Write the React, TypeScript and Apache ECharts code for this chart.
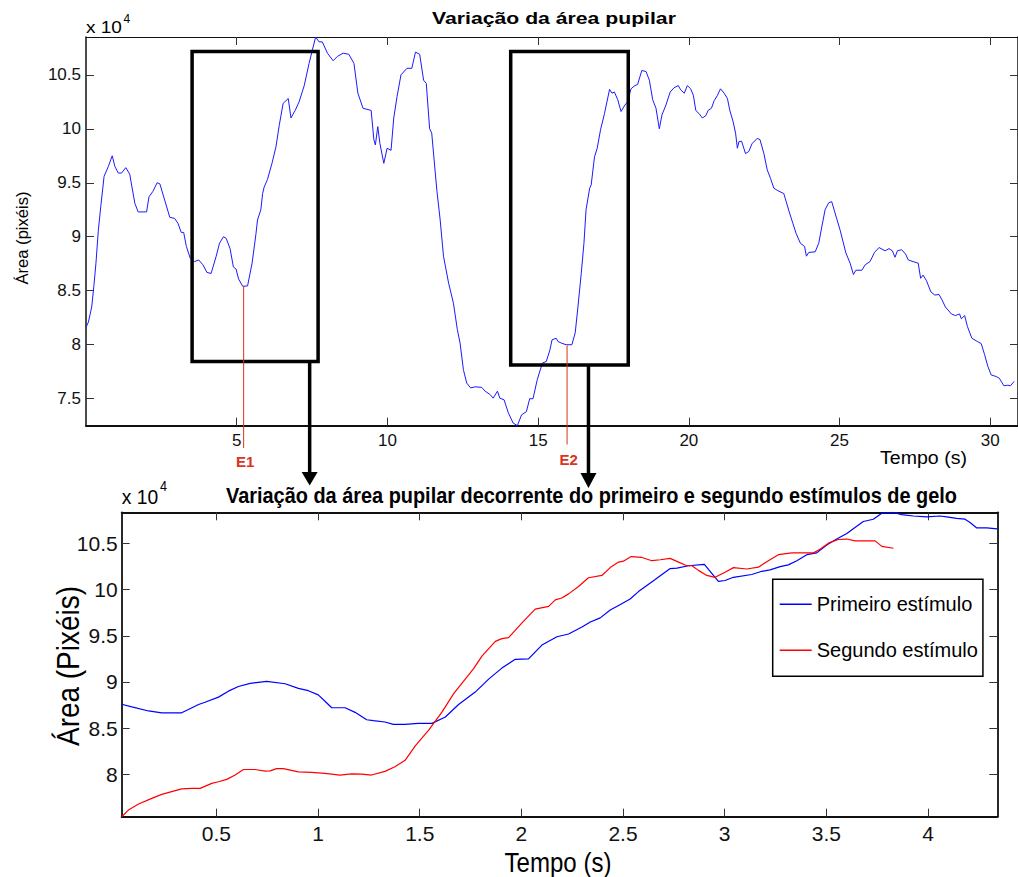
import React, { useEffect, useRef } from 'react';
import * as echarts from 'echarts';

// ---------- data (areas in units of 10^4 pixels, time in seconds) ----------
const topPupilArea: number[][] = [
  [0.00, 8.16], [0.08, 8.21], [0.19, 8.35], [0.26, 8.54], [0.33, 8.755], [0.41, 9.06], [0.49, 9.28], [0.60, 9.56],
  [0.74, 9.65], [0.87, 9.75], [0.96, 9.65], [1.07, 9.59], [1.18, 9.59], [1.32, 9.64], [1.45, 9.58], [1.62, 9.31],
  [1.73, 9.23], [2.01, 9.23], [2.09, 9.37], [2.22, 9.42], [2.36, 9.50], [2.45, 9.49], [2.61, 9.34], [2.78, 9.18],
  [2.94, 9.17], [3.05, 9.125], [3.16, 9.04], [3.24, 9.04], [3.33, 8.91], [3.46, 8.80], [3.60, 8.77], [3.74, 8.785],
  [3.88, 8.74], [4.01, 8.67], [4.15, 8.66], [4.32, 8.82], [4.43, 8.94], [4.56, 9.00], [4.65, 8.985], [4.78, 8.89],
  [4.89, 8.72], [4.98, 8.70], [5.06, 8.61], [5.20, 8.54], [5.36, 8.545], [5.51, 8.755], [5.64, 9.03], [5.69, 9.155],
  [5.80, 9.25], [5.86, 9.40], [5.91, 9.46], [6.02, 9.53], [6.17, 9.68], [6.30, 9.83], [6.41, 10.03], [6.54, 10.235],
  [6.71, 10.28], [6.80, 10.10], [6.94, 10.17], [7.07, 10.25], [7.24, 10.40], [7.40, 10.605], [7.51, 10.73], [7.62, 10.85],
  [7.73, 10.805], [7.84, 10.805], [8.01, 10.70], [8.20, 10.63], [8.34, 10.67], [8.53, 10.70], [8.72, 10.69], [8.89, 10.605],
  [9.02, 10.33], [9.19, 10.19], [9.46, 10.17], [9.55, 9.90], [9.60, 9.85], [9.68, 10.02], [9.75, 9.865], [9.88, 9.68],
  [9.99, 9.82], [10.12, 9.80], [10.21, 10.10], [10.32, 10.30], [10.45, 10.50], [10.65, 10.56], [10.81, 10.56], [10.93, 10.71],
  [11.07, 10.69], [11.20, 10.45], [11.29, 10.42], [11.40, 10.00], [11.47, 9.96], [11.64, 9.43], [11.75, 9.155], [11.86, 8.82],
  [12.03, 8.57], [12.19, 8.385], [12.32, 8.14], [12.41, 8.015], [12.52, 7.77], [12.63, 7.645], [12.76, 7.60], [12.91, 7.61],
  [13.13, 7.605], [13.24, 7.57], [13.40, 7.54], [13.51, 7.505], [13.65, 7.57], [13.73, 7.505], [13.87, 7.49], [14.01, 7.37],
  [14.17, 7.275], [14.31, 7.25], [14.45, 7.35], [14.61, 7.38], [14.72, 7.50], [14.83, 7.50], [14.97, 7.675], [15.14, 7.83],
  [15.27, 7.845], [15.39, 7.95], [15.46, 8.045], [15.60, 8.06], [15.66, 8.03], [15.77, 8.015], [15.93, 8.00], [16.12, 8.00],
  [16.23, 8.11], [16.32, 8.35], [16.43, 8.66], [16.52, 8.94], [16.59, 9.25], [16.71, 9.45], [16.76, 9.48], [16.87, 9.74],
  [16.96, 9.82], [17.07, 9.99], [17.20, 10.14], [17.37, 10.365], [17.45, 10.33], [17.53, 10.34], [17.64, 10.27], [17.75, 10.16],
  [17.88, 10.22], [17.97, 10.25], [18.08, 10.37], [18.21, 10.40], [18.30, 10.41], [18.44, 10.54], [18.58, 10.53], [18.69, 10.45],
  [18.80, 10.27], [18.91, 10.19], [19.02, 10.00], [19.11, 10.13], [19.24, 10.22], [19.38, 10.34], [19.51, 10.38], [19.65, 10.40],
  [19.73, 10.36], [19.85, 10.33], [19.95, 10.40], [20.06, 10.37], [20.15, 10.31], [20.23, 10.17], [20.34, 10.14], [20.45, 10.10],
  [20.56, 10.12], [20.64, 10.17], [20.75, 10.19], [20.84, 10.26], [20.95, 10.31], [21.05, 10.37], [21.17, 10.33], [21.28, 10.28],
  [21.36, 10.17], [21.47, 10.065], [21.55, 9.96], [21.61, 9.82], [21.66, 9.88], [21.75, 9.885], [21.88, 9.77], [21.99, 9.79],
  [22.10, 9.865], [22.27, 9.91], [22.36, 9.90], [22.49, 9.77], [22.60, 9.62], [22.71, 9.54], [22.82, 9.45], [22.93, 9.43],
  [23.15, 9.40], [23.23, 9.325], [23.33, 9.23], [23.45, 9.125], [23.56, 9.03], [23.70, 8.94], [23.84, 8.91], [23.90, 8.82],
  [23.98, 8.855], [24.19, 8.86], [24.31, 8.94], [24.41, 9.09], [24.52, 9.25], [24.64, 9.315], [24.74, 9.325], [24.85, 9.22],
  [25.02, 9.06], [25.21, 8.85], [25.35, 8.755], [25.46, 8.65], [25.54, 8.69], [25.74, 8.69], [25.85, 8.74], [26.01, 8.77],
  [26.16, 8.855], [26.31, 8.90], [26.51, 8.87], [26.64, 8.89], [26.75, 8.87], [26.84, 8.81], [26.92, 8.87], [27.06, 8.88],
  [27.19, 8.84], [27.28, 8.785], [27.44, 8.77], [27.61, 8.755], [27.69, 8.615], [27.77, 8.645], [27.88, 8.595], [28.03, 8.49],
  [28.16, 8.46], [28.30, 8.465], [28.40, 8.415], [28.51, 8.35], [28.71, 8.285], [28.84, 8.27], [28.98, 8.285], [29.04, 8.24],
  [29.15, 8.27], [29.24, 8.17], [29.39, 8.06], [29.57, 8.03], [29.70, 8.01], [29.81, 7.91], [29.92, 7.80], [30.03, 7.72],
  [30.20, 7.705], [30.30, 7.69], [30.45, 7.62], [30.58, 7.625], [30.67, 7.62], [30.79, 7.66],
];

const firstStimulus: number[][] = [
  [0.034, 8.758], [0.084, 8.73], [0.166, 8.685], [0.231, 8.665], [0.329, 8.665], [0.362, 8.70], [0.412, 8.755], [0.444, 8.78],
  [0.510, 8.835], [0.559, 8.90], [0.608, 8.95], [0.666, 8.985], [0.747, 9.005], [0.838, 8.98], [0.903, 8.93], [0.952, 8.905],
  [1.001, 8.86], [1.034, 8.79], [1.067, 8.72], [1.133, 8.72], [1.182, 8.67], [1.239, 8.59], [1.272, 8.58], [1.329, 8.565],
  [1.370, 8.54], [1.428, 8.54], [1.493, 8.55], [1.560, 8.55], [1.626, 8.62], [1.691, 8.755], [1.773, 8.89], [1.839, 9.03],
  [1.904, 9.15], [1.970, 9.245], [2.035, 9.25], [2.101, 9.40], [2.175, 9.49], [2.232, 9.52], [2.298, 9.595], [2.339, 9.65],
  [2.388, 9.695], [2.437, 9.78], [2.478, 9.83], [2.535, 9.90], [2.576, 9.98], [2.658, 10.11], [2.732, 10.23], [2.765, 10.235],
  [2.822, 10.26], [2.900, 10.275], [2.969, 10.09], [3.002, 10.10], [3.043, 10.135], [3.133, 10.165], [3.183, 10.20], [3.223, 10.215],
  [3.273, 10.25], [3.313, 10.27], [3.355, 10.315], [3.404, 10.38], [3.453, 10.40], [3.502, 10.485], [3.551, 10.55], [3.601, 10.61],
  [3.641, 10.675], [3.682, 10.74], [3.731, 10.765], [3.773, 10.83], [3.830, 10.84], [3.871, 10.815], [3.928, 10.80], [3.994, 10.79],
  [4.059, 10.80], [4.092, 10.79], [4.141, 10.775], [4.182, 10.765], [4.207, 10.73], [4.240, 10.67], [4.289, 10.67], [4.341, 10.66],
];

const secondStimulus: number[][] = [
  [0.034, 7.538], [0.067, 7.61], [0.117, 7.675], [0.182, 7.737], [0.231, 7.78], [0.280, 7.81], [0.329, 7.84], [0.379, 7.845],
  [0.420, 7.845], [0.477, 7.90], [0.510, 7.917], [0.551, 7.943], [0.592, 7.99], [0.633, 8.05], [0.690, 8.05], [0.739, 8.033],
  [0.764, 8.035], [0.796, 8.06], [0.829, 8.06], [0.903, 8.025], [0.968, 8.018], [1.034, 8.008], [1.108, 7.99], [1.165, 8.003],
  [1.214, 8.00], [1.263, 7.99], [1.329, 8.03], [1.378, 8.08], [1.428, 8.15], [1.478, 8.306], [1.544, 8.476], [1.610, 8.675],
  [1.667, 8.873], [1.765, 9.144], [1.806, 9.28], [1.872, 9.44], [1.904, 9.47], [1.937, 9.48], [2.003, 9.64], [2.068, 9.79],
  [2.134, 9.82], [2.167, 9.89], [2.199, 9.91], [2.232, 9.955], [2.281, 10.035], [2.330, 10.13], [2.396, 10.155], [2.437, 10.24],
  [2.478, 10.30], [2.502, 10.31], [2.540, 10.36], [2.593, 10.35], [2.642, 10.315], [2.683, 10.325], [2.732, 10.34], [2.773, 10.30],
  [2.814, 10.26], [2.839, 10.26], [2.871, 10.21], [2.912, 10.155], [2.953, 10.135], [3.002, 10.19], [3.043, 10.24], [3.109, 10.225],
  [3.166, 10.245], [3.215, 10.315], [3.264, 10.38], [3.330, 10.40], [3.387, 10.40], [3.437, 10.40], [3.469, 10.44], [3.510, 10.505],
  [3.559, 10.545], [3.601, 10.55], [3.641, 10.53], [3.690, 10.53], [3.740, 10.53], [3.773, 10.47], [3.830, 10.45],
];

const topTimeTicks = [5, 10, 15, 20, 25, 30];
const topAreaTicks = [7.5, 8, 8.5, 9, 9.5, 10, 10.5];
const bottomTimeTicks = [0.5, 1, 1.5, 2, 2.5, 3, 3.5, 4];
const bottomAreaTicks = [8, 8.5, 9, 9.5, 10, 10.5];

// zoom boxes over the stimulus windows (data coordinates of the top plot)
const boxTimeStart = [3.52, 14.09];
const boxTimeEnd = [7.70, 17.99];
const boxAreaTop = [10.716, 10.716];
const boxAreaBottom = [7.845, 7.812];
const arrowTime = [7.42, 16.67];
const stimulusTime = [5.23, 15.96];
const stimulusArea = [8.545, 7.993];
const stimulusLabels = ['E1', 'E2'];

const seriesNames = ['Primeiro estímulo', 'Segundo estímulo'];

const FONT = "'Liberation Sans', Arial, Helvetica, sans-serif";

function makeAxis(kind: 'x' | 'y', grid: number, position: string, min: number, max: number, ticks: number[], labels: boolean, big: boolean, lineWidth: number) {
  return {
    type: 'value',
    gridIndex: grid,
    position,
    min,
    max,
    axisLine: { show: true, onZero: false, lineStyle: { color: '#111', width: lineWidth } },
    axisTick: { show: true, inside: true, length: 8, customValues: ticks, lineStyle: { color: '#333', width: 1 } },
    axisLabel: {
      show: labels,
      customValues: ticks,
      fontSize: big ? 21 : 17,
      fontFamily: FONT,
      color: '#111',
      margin: kind === 'x' ? 6 : big ? 4 : 5,
    },
    splitLine: { show: false },
  };
}

const option: any = {
  animation: false,
  backgroundColor: '#ffffff',
  grid: [
    { left: 86, top: 37, width: 936, height: 388.7, show: false },
    { left: 121.7, top: 512.3, width: 875.6, height: 304.4, show: false },
  ],
  xAxis: [
    makeAxis('x', 0, 'bottom', 0, 30.92, topTimeTicks, true, false, 2),
    makeAxis('x', 0, 'top', 0, 30.92, topTimeTicks, false, false, 1),
    makeAxis('x', 1, 'bottom', 0.034, 4.341, bottomTimeTicks, true, true, 2),
    makeAxis('x', 1, 'top', 0.034, 4.341, bottomTimeTicks, false, true, 1.8),
  ],
  yAxis: [
    makeAxis('y', 0, 'left', 7.25, 10.85, topAreaTicks, true, false, 1.5),
    makeAxis('y', 0, 'right', 7.25, 10.85, topAreaTicks, false, false, 1.5),
    makeAxis('y', 1, 'left', 7.538, 10.84, bottomAreaTicks, true, true, 1.8),
    makeAxis('y', 1, 'right', 7.538, 10.84, bottomAreaTicks, false, true, 1.8),
  ],
  legend: {
    data: seriesNames,
    orient: 'vertical',
    left: 772.7,
    top: 579.3,
    padding: [13, 5, 14, 7],
    icon: 'rect',
    itemWidth: 32,
    itemHeight: 1.4,
    itemGap: 22,
    selectedMode: false,
    backgroundColor: '#ffffff',
    borderColor: '#000',
    borderWidth: 1.5,
    textStyle: { fontSize: 20, fontFamily: FONT, color: '#000', lineHeight: 24 },
  },
  series: [
    {
      name: 'Área pupilar',
      type: 'line',
      xAxisIndex: 0,
      yAxisIndex: 0,
      data: topPupilArea,
      symbol: 'none',
      lineStyle: { color: '#1a1aff', width: 1 },
      itemStyle: { color: '#1a1aff' },
    },
    {
      name: seriesNames[0],
      type: 'line',
      xAxisIndex: 2,
      yAxisIndex: 2,
      data: firstStimulus,
      symbol: 'none',
      lineStyle: { color: '#0000ff', width: 1.2 },
      itemStyle: { color: '#0000ff' },
    },
    {
      name: seriesNames[1],
      type: 'line',
      xAxisIndex: 2,
      yAxisIndex: 2,
      data: secondStimulus,
      symbol: 'none',
      lineStyle: { color: '#ff0000', width: 1.2 },
      itemStyle: { color: '#ff0000' },
    },
  ],
};

let measureCtx: CanvasRenderingContext2D | null = null;
function measure(text: string, font: string) {
  if (!measureCtx) measureCtx = document.createElement('canvas').getContext('2d');
  if (!measureCtx) return 0;
  measureCtx.font = font;
  return measureCtx.measureText(text).width;
}

// text element; when targetWidth is given the text is horizontally scaled to that width
function txt(text: string, x: number, y: number, font: string, align = 'center', fill = '#000', rotation = 0, targetWidth = 0) {
  let scaleX = 1;
  if (targetWidth > 0) {
    const w = measure(text, font);
    if (w > 0) scaleX = targetWidth / w;
  }
  return {
    type: 'text',
    x,
    y,
    rotation,
    scaleX,
    z: 100,
    style: { text, font, fill, align, textAlign: align, verticalAlign: 'middle', textVerticalAlign: 'middle' },
  };
}

export default function App() {
  const ref = useRef<HTMLDivElement>(null);
  useEffect(() => {
    const chart = echarts.init(ref.current!, null, { renderer: 'svg' });
    chart.setOption(option);
    const toPx = (pt: number[]) => chart.convertToPixel({ xAxisIndex: 0, yAxisIndex: 0 }, pt) as number[];

    const g: any[] = [
      txt('Variação da área pupilar', 554, 18, `bold 17px ${FONT}`, 'center', '#000', 0, 244),
      txt('x 10', 86, 27, `17px ${FONT}`, 'left', '#000', 0, 36),
      txt('4', 123.5, 19, `12px ${FONT}`, 'left'),
      txt('Área (pixéis)', 22, 238, `16px ${FONT}`, 'center', '#000', Math.PI / 2, 93),
      txt('Tempo (s)', 923.5, 458, `18px ${FONT}`, 'center', '#000', 0, 87),
      txt('Variação da área pupilar decorrente do primeiro e segundo estímulos de gelo', 591.5, 495, `bold 22px ${FONT}`, 'center', '#000', 0, 731),
      txt('x 10', 121.7, 497, `21px ${FONT}`, 'left', '#000', 0, 36.5),
      txt('4', 160, 486, `15px ${FONT}`, 'left', '#000', 0, 7),
      txt('Área (Pixéis)', 68, 666, `31px ${FONT}`, 'center', '#000', Math.PI / 2, 160),
      txt('Tempo (s)', 558, 862, `28px ${FONT}`, 'center', '#000', 0, 107),
    ];

    const arrowBase = [472, 473];
    const arrowTip = [485.5, 488];
    const redEnd = [448, 444.5];
    const labelY = [461, 459];

    for (let i = 0; i < 2; i++) {
      const a = toPx([boxTimeStart[i], boxAreaTop[i]]);
      const b = toPx([boxTimeEnd[i], boxAreaBottom[i]]);
      g.push({
        type: 'rect',
        z: 90,
        shape: { x: a[0], y: a[1], width: b[0] - a[0], height: b[1] - a[1] },
        style: { fill: 'none', stroke: '#000', lineWidth: 3.5 },
      });
      const ax = toPx([arrowTime[i], boxAreaBottom[i]]);
      g.push({
        type: 'line',
        z: 90,
        shape: { x1: ax[0], y1: ax[1], x2: ax[0], y2: arrowBase[i] + 1 },
        style: { stroke: '#000', lineWidth: 3.5 },
      });
      g.push({
        type: 'polygon',
        z: 90,
        shape: { points: [[ax[0] - 8, arrowBase[i]], [ax[0] + 8, arrowBase[i]], [ax[0], arrowTip[i]]] },
        style: { fill: '#000', stroke: 'none' },
      });
      const s = toPx([stimulusTime[i], stimulusArea[i]]);
      g.push({
        type: 'line',
        z: 91,
        shape: { x1: s[0], y1: s[1], x2: s[0], y2: redEnd[i] },
        style: { stroke: '#d9341c', lineWidth: 1 },
      });
      g.push(txt(stimulusLabels[i], s[0] + 1.5, labelY[i], `bold 15px ${FONT}`, 'center', '#d9341c'));
    }

    chart.setOption({ graphic: g });
    return () => chart.dispose();
  }, []);
  return (
    <div
      ref={ref}
      style={{ position: 'absolute', left: 0, top: 0, width: 1018, height: 877, background: '#fff' }}
    />
  );
}
